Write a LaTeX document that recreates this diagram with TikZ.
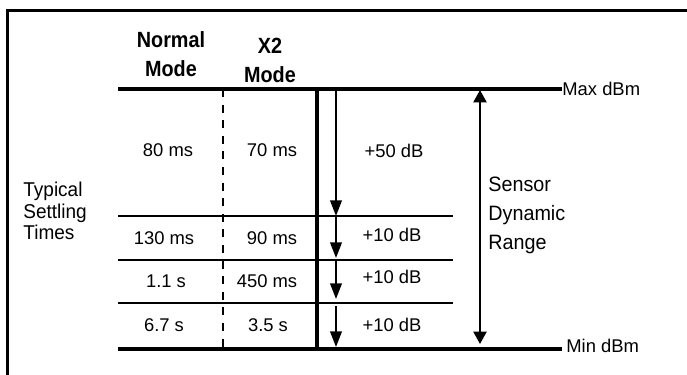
\documentclass[tikz,border=0pt]{standalone}
\usepackage{fontspec}
\setmainfont{Liberation Sans}
\newfontfamily\condfont{Liberation Sans}[FakeStretch=0.95]
\newfontfamily\headfont{Liberation Sans}[FakeStretch=0.9]
\usetikzlibrary{arrows.meta}

\begin{document}
\begin{tikzpicture}[x=0.5pt,y=-0.5pt,
  framerule/.style={line width=1.5pt},
  thickrule/.style={line width=1.55pt},
  thinrule/.style={line width=0.95pt},
  modeline/.style={line width=1pt,dash pattern=on 4pt off 3.8pt},
  levelarrow/.style={line width=0.95pt,-{Triangle[length=7.8pt,width=5.8pt]}},
  rangearrow/.style={line width=0.95pt,{Triangle[length=6.2pt,width=6.6pt]}-{Triangle[length=6.2pt,width=6.6pt]}},
  cell/.style={inner sep=0pt,font=\fontsize{9.2}{11}\selectfont},
  head/.style={inner sep=0pt,align=center,font=\headfont\bfseries\fontsize{11}{14.5}\selectfont},
  side/.style 2 args={inner sep=0pt,align=left,anchor=west,font=\condfont\fontsize{#1}{#2}\selectfont}]
  % Niveles (px, hacia abajo): máximo, tres pasos de 10 dB, mínimo
  \def\yMax{89} \def\yA{216} \def\yB{260} \def\yC{303} \def\yMin{349}
  \def\xL{118} \def\xDash{223} \def\xBar{317} \def\xStep{336} \def\xRow{453} \def\xEnd{562} \def\xRange{480}
  \useasboundingbox (0,0) rectangle (687,375);
  \draw[framerule] (7,375) -- (7,10) -- (687,10);

  % Reglas de la tabla
  \coordinate (maxL) at (\xL,\yMax);  \coordinate (maxR) at (\xEnd,\yMax);
  \coordinate (minL) at (\xL,\yMin);  \coordinate (minR) at (\xEnd,\yMin);
  \coordinate (aL) at (\xL,\yA); \coordinate (aR) at (\xRow,\yA);
  \coordinate (bL) at (\xL,\yB); \coordinate (bR) at (\xRow,\yB);
  \coordinate (cL) at (\xL,\yC); \coordinate (cR) at (\xRow,\yC);
  \draw[thickrule] (maxL) -- (maxR);
  \draw[thickrule] (minL) -- (minR);
  \draw[thinrule] (aL) -- (aR);
  \draw[thinrule] (bL) -- (bR);
  \draw[thinrule] (cL) -- (cR);
  \coordinate (dashT) at (\xDash,\yMax); \coordinate (dashB) at (\xDash,\yMin);
  \coordinate (barT) at (\xBar,\yMax);   \coordinate (barB) at (\xBar,\yMin);
  \draw[modeline] (dashT) -- (dashB);
  \draw[thickrule] (barT) -- (barB);

  % Flechas de cada paso
  \coordinate (s0) at (\xStep,\yMax); \coordinate (s1) at (\xStep,\yA);
  \coordinate (s2a) at (\xStep,\yA);  \coordinate (s2) at (\xStep,258);
  \coordinate (s3a) at (\xStep,\yB);  \coordinate (s3) at (\xStep,299);
  \coordinate (s4a) at (\xStep,306);  \coordinate (s4) at (\xStep,347);
  \draw[levelarrow] (s0) -- (s1);
  \draw[levelarrow] (s2a) -- (s2);
  \draw[levelarrow] (s3a) -- (s3);
  \draw[levelarrow] (s4a) -- (s4);
  \coordinate (rT) at (\xRange,90); \coordinate (rB) at (\xRange,344);
  \draw[rangearrow] (rB) -- (rT);

  % Textos
  \node[head] (normal) at (171,54) {Normal\\Mode};
  \node[head] (xtwo) at (270,60) {X2\\Mode};
  \node[side={10}{10.8}] (typical) at (23,211) {Typical\\Settling\\Times};
  \node[side={10.4}{14.5}] (sensor) at (488,215) {Sensor\\Dynamic\\Range};
  \node[cell,anchor=west] (maxdbm) at (\xEnd,89) {Max dBm};
  \node[cell,anchor=west] (mindbm) at (566,346) {Min dBm};

  \node[cell] (n80) at (168,150) {80 ms};
  \node[cell] (x70) at (272,150) {70 ms};
  \node[cell] (d50) at (394,151) {+50 dB};
  \node[cell] (n130) at (164,238) {130 ms};
  \node[cell] (x90) at (272,238) {90 ms};
  \node[cell] (d10a) at (392,235) {+10 dB};
  \node[cell] (n11) at (166,281) {1.1 s};
  \node[cell] (x450) at (267,281) {450 ms};
  \node[cell] (d10b) at (392,277) {+10 dB};
  \node[cell] (n67) at (164,325) {6.7 s};
  \node[cell] (x35) at (268,325) {3.5 s};
  \node[cell] (d10c) at (392,325) {+10 dB};
\end{tikzpicture}
\end{document}
